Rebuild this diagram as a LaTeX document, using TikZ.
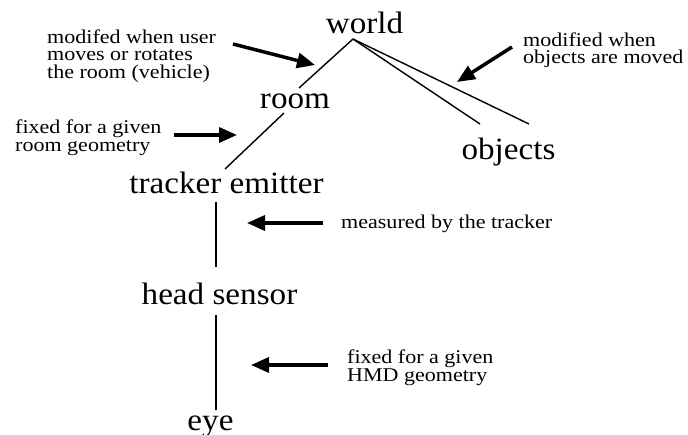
\documentclass[tikz,border=0pt]{standalone}
\usepackage{fontspec}
\setmainfont{Liberation Serif}
\newfontfamily\bigface{Liberation Serif}[FakeStretch=1.07]
\newfontfamily\noteface{Liberation Serif}[FakeStretch=1.13]
\usetikzlibrary{arrows.meta}
\tikzset{
  big/.style={font=\bigface\fontsize{31}{36}\selectfont, inner sep=0pt, anchor=base},
  note/.style={font=\noteface\fontsize{19.5}{17.5}\selectfont, inner sep=0pt, anchor=base west, align=left},
  link/.style={line width=1.4pt},
  pointer/.style={line width=3.5pt, -{Triangle[length=18pt,width=15pt]}},
}
\begin{document}
\begin{tikzpicture}[x=1pt,y=-1pt]
\useasboundingbox (0,0) rectangle (688,434);
% main nodes
\node[big] (world) at (364.5,33) {world};
\node[big] (room) at (295,108) {room};
\node[big] (objects) at (508.5,159) {objects};
\node[big] (tracker) at (226.5,193) {tracker emitter};
\node[big] (head) at (219.5,304) {head sensor};
\node[big] (eye) at (210.5,430) {eye};
% connector end points
\coordinate (wj) at (353,39);
\coordinate (roomtop) at (299,88);
\coordinate (roombot) at (284,113);
\coordinate (trtop) at (225,169);
\coordinate (objA) at (480,124);
\coordinate (objB) at (529,124);
\coordinate (trbot) at (216,202);
\coordinate (headtop) at (216,267);
\coordinate (headbot) at (216,315);
\coordinate (eyetop) at (216,410);
\draw[link] (wj) -- (roomtop);
\draw[link] (roombot) -- (trtop);
\draw[link] (wj) -- (objA);
\draw[link] (wj) -- (objB);
\draw[link] (trbot) -- (headtop);
\draw[link] (headbot) -- (eyetop);
% notes (anchored at the baseline of their last line)
\node[note] (n1) at (47,78) {modifed when user\\moves or rotates\\the room (vehicle)};
\node[note] (n2) at (15,151) {fixed for a given\\room geometry};
\node[note, font=\noteface\fontsize{19.5}{16.7}\selectfont] (n3) at (523,63.5) {modified when\\objects are moved};
\node[note] (n4) at (341,228) {measured by the tracker};
\node[note] (n5) at (347,381) {fixed for a given\\HMD geometry};
% pointers
\coordinate (a1s) at (233,44); \coordinate (a1e) at (315,65);
\coordinate (a2s) at (174,135); \coordinate (a2e) at (237,135);
\coordinate (a3s) at (512,47); \coordinate (a3e) at (457,82);
\coordinate (a4s) at (323,223); \coordinate (a4e) at (247,223);
\coordinate (a5s) at (328,365); \coordinate (a5e) at (251,365);
\draw[pointer] (a1s) -- (a1e);
\draw[pointer] (a2s) -- (a2e);
\draw[pointer] (a3s) -- (a3e);
\draw[pointer] (a4s) -- (a4e);
\draw[pointer] (a5s) -- (a5e);
\end{tikzpicture}
\end{document}
